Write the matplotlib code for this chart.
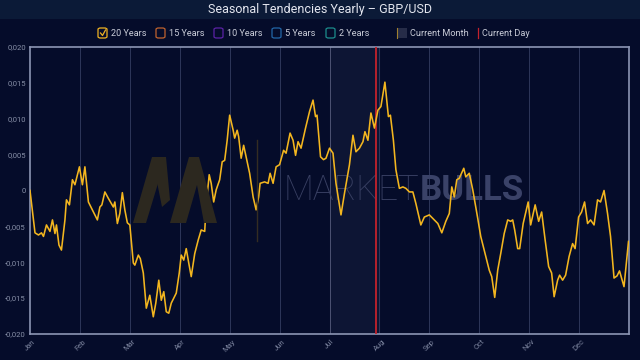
import matplotlib
matplotlib.use("Agg")
import matplotlib.pyplot as plt
from matplotlib.patches import FancyBboxPatch, Rectangle, Polygon
from matplotlib.lines import Line2D

# ================================
# DATA
# ================================
months = ["Jan", "Feb", "Mar", "Apr", "May", "Jun",
          "Jul", "Aug", "Sep", "Oct", "Nov", "Dec"]

# x position in months from 1 Jan (0 = Jan, 12 = end of Dec)
x_month = [
    0.00, 0.10, 0.17, 0.23, 0.27, 0.33, 0.40, 0.45, 0.50, 0.53,
    0.58, 0.63, 0.70, 0.73, 0.79, 0.85, 0.90, 0.99, 1.05, 1.10,
    1.17, 1.27, 1.35, 1.40, 1.44, 1.50, 1.57, 1.67, 1.70, 1.75,
    1.80, 1.85, 1.90, 1.95, 2.00, 2.07, 2.10, 2.17, 2.21, 2.27,
    2.33, 2.40, 2.47, 2.52, 2.58, 2.63, 2.68, 2.73, 2.78, 2.83,
    2.93, 2.99, 3.03, 3.08, 3.13, 3.18, 3.23, 3.30, 3.37, 3.43,
    3.50, 3.53, 3.59, 3.63, 3.68, 3.73, 3.80, 3.85, 3.90, 3.95,
    4.00, 4.07, 4.10, 4.15, 4.18, 4.23, 4.28, 4.33, 4.40, 4.47,
    4.53, 4.58, 4.61, 4.70, 4.77, 4.81, 4.87, 4.93, 5.00, 5.08,
    5.13, 5.21, 5.27, 5.32, 5.37, 5.43, 5.52, 5.60, 5.67, 5.72,
    5.75, 5.82, 5.88, 5.93, 6.00, 6.07, 6.13, 6.23, 6.30, 6.40,
    6.47, 6.53, 6.60, 6.67, 6.71, 6.77, 6.83, 6.90, 6.97, 7.03,
    7.11, 7.18, 7.22, 7.28, 7.33, 7.40, 7.47, 7.53, 7.60, 7.67,
    7.73, 7.83, 7.90, 8.00, 8.10, 8.17, 8.25, 8.33, 8.40, 8.45,
    8.50, 8.55, 8.60, 8.69, 8.73, 8.80, 8.87, 8.97, 9.03, 9.13,
    9.20, 9.25, 9.31, 9.37, 9.43, 9.50, 9.57, 9.63, 9.67, 9.71,
    9.77, 9.81, 9.88, 9.98, 10.03, 10.12, 10.19, 10.25, 10.32, 10.39,
    10.45, 10.50, 10.57, 10.61, 10.67, 10.73, 10.80, 10.87, 10.92, 10.99,
    11.05, 11.11, 11.17, 11.23, 11.30, 11.37, 11.43, 11.50, 11.57, 11.63,
    11.70, 11.76, 11.81, 11.90, 11.99,
]

# 20 year seasonal tendency
tend_20y = [
    0.0000, -0.0059, -0.0062, -0.0059, -0.0064, -0.0048, -0.0057, -0.0041, -0.0060, -0.0048,
    -0.0076, -0.0083, -0.0041, -0.0013, -0.0020, 0.0015, 0.0008, 0.0033, 0.0008, 0.0033,
    -0.0016, -0.0030, -0.0041, -0.0023, -0.0020, -0.0002, -0.0011, -0.0023, -0.0016, -0.0046,
    -0.0032, -0.0003, -0.0027, -0.0045, -0.0048, -0.0101, -0.0104, -0.0090, -0.0095, -0.0115,
    -0.0164, -0.0146, -0.0176, -0.0157, -0.0125, -0.0153, -0.0141, -0.0169, -0.0171, -0.0157,
    -0.0143, -0.0115, -0.0090, -0.0097, -0.0081, -0.0101, -0.0120, -0.0088, -0.0069, -0.0055,
    -0.0057, -0.0020, 0.0022, 0.0010, -0.0016, 0.0001, 0.0015, 0.0040, 0.0042, 0.0070,
    0.0105, 0.0084, 0.0073, 0.0084, 0.0075, 0.0045, 0.0063, 0.0047, 0.0024, -0.0009,
    -0.0027, -0.0009, 0.0010, 0.0012, 0.0010, 0.0024, 0.0010, 0.0033, 0.0036, 0.0056,
    0.0052, 0.0080, 0.0070, 0.0049, 0.0068, 0.0059, 0.0087, 0.0110, 0.0126, 0.0103,
    0.0105, 0.0047, 0.0043, 0.0045, 0.0059, 0.0052, 0.0010, -0.0034, -0.0004, 0.0036,
    0.0077, 0.0054, 0.0059, 0.0068, 0.0082, 0.0070, 0.0108, 0.0087, 0.0112, 0.0117,
    0.0151, 0.0103, 0.0105, 0.0070, 0.0029, 0.0003, 0.0005, 0.0003, -0.0002, -0.0002,
    -0.0018, -0.0048, -0.0037, -0.0034, -0.0041, -0.0046, -0.0059, -0.0043, -0.0032, 0.0005,
    -0.0009, 0.0015, 0.0017, 0.0031, 0.0019, 0.0024, 0.0001, -0.0039, -0.0064, -0.0092,
    -0.0111, -0.0120, -0.0149, -0.0111, -0.0088, -0.0060, -0.0041, -0.0043, -0.0041, -0.0055,
    -0.0081, -0.0081, -0.0046, -0.0016, -0.0048, -0.0020, -0.0043, -0.0030, -0.0069, -0.0106,
    -0.0115, -0.0148, -0.0125, -0.0118, -0.0125, -0.0118, -0.0092, -0.0074, -0.0081, -0.0037,
    -0.0030, -0.0016, -0.0046, -0.0041, -0.0048, -0.0013, -0.0016, 0.0000, -0.0032, -0.0064,
    -0.0122, -0.0119, -0.0112, -0.0134, -0.0071,
]

y_ticks = [-0.020, -0.015, -0.010, -0.005, 0.0, 0.005, 0.010, 0.015, 0.020]
y_labels = ["-0,020", "-0,015", "-0,010", "-0,005", "0",
            "0,005", "0,010", "0,015", "0,020"]

current_month = 6        # Jul
current_day = 6.94       # late July

legend_items = ["20 Years", "15 Years", "10 Years", "5 Years", "2 Years"]
legend_colors = ["#f0b323", "#c0622e", "#5b22a6", "#2266a8", "#1c8c8c"]

# ================================
# STYLE
# ================================
BG = "#050c2a"
GOLD = "#f3b61f"
plt.rcParams["font.family"] = ["Roboto", "DejaVu Sans"]

W, H = 640, 360
fig = plt.figure(figsize=(6.4, 3.6), dpi=100, facecolor=BG)


def fx(px):
    return px / W


def fy(py):
    return 1 - py / H


# title band
fig.add_artist(Rectangle((0, fy(19)), 1, 19 / H, transform=fig.transFigure,
                         facecolor="#0b1a37", edgecolor="none", zorder=0))
fig.text(0.5, fy(9), "Seasonal Tendencies Yearly \u2013 GBP/USD", color="#e3e6ef",
         fontsize=9, ha="center", va="center")

ax = fig.add_axes([fx(30), fy(334), fx(599), 287 / H])
ax.set_facecolor(BG)

# current month shading and current day marker
ax.axvspan(current_month, current_month + 1, color="#0d1534", zorder=0)
ax.axvline(current_day, color="#c4222c", lw=1.3, zorder=3)

# month gridlines
for m in range(1, 12):
    ax.axvline(m, color="#343e62" if m != current_month else "#565c7c", lw=0.6, zorder=1)

# watermark
ax.text(0.424, 0.5, "MARKET", transform=ax.transAxes, color="#383f62",
        fontsize=25, fontweight="light", ha="left", va="center", zorder=1)
ax.text(0.651, 0.5, "BULLS", transform=ax.transAxes, color="#3a4268",
        fontsize=25, fontweight="bold", ha="left", va="center", zorder=1)
logo_col = "#2c281f"
for pts in ([(133, 223), (146, 223), (166, 157), (152, 157)],
            [(152, 157), (166, 157), (170, 200), (162, 207)],
            [(170, 223), (186, 223), (197, 185), (204, 223), (217, 223), (199, 157), (189, 157)]):
    fig.add_artist(Polygon([(fx(a), fy(b)) for a, b in pts], closed=True,
                           transform=fig.transFigure, facecolor=logo_col,
                           edgecolor="none", zorder=1))
fig.add_artist(Line2D([fx(257), fx(257)], [fy(140), fy(241)], transform=fig.transFigure,
                      color="#342d22", lw=1, zorder=1))

ax.plot(x_month, tend_20y, color=GOLD, lw=1.15, zorder=4)

ax.set_xlim(0, 12)
ax.set_ylim(-0.02, 0.02)
ax.set_xticks(range(12))
ax.set_xticklabels(months, rotation=45, ha="center", fontsize=5.5, color="#7c849e")
ax.set_yticks(y_ticks)
ax.set_yticklabels(y_labels, fontsize=5.5, color="#8890a8")
ax.tick_params(length=0, pad=3)
for s in ax.spines.values():
    s.set_color("#8c95b3")
    s.set_linewidth(1.2)

# legend
box_x = [98, 156, 214, 272, 326]
text_x = [111, 169, 227, 285, 339]
ly = 33
for i, lab in enumerate(legend_items):
    fig.add_artist(FancyBboxPatch((fx(box_x[i]), fy(ly + 5)), fx(9), 10 / H,
                                  boxstyle="round,pad=0,rounding_size=0.004",
                                  transform=fig.transFigure, facecolor="none",
                                  edgecolor=legend_colors[i], lw=0.9))
    fig.text(fx(text_x[i]), fy(ly), lab, color="#c9ccd8", fontsize=6.6, va="center")
# check mark in the active box
fig.add_artist(Line2D([fx(100.5), fx(102.5), fx(105.5)], [fy(33), fy(35.5), fy(30)],
                      transform=fig.transFigure, color=legend_colors[0], lw=0.9))

fig.add_artist(Rectangle((fx(397), fy(38)), fx(10), 10 / H, transform=fig.transFigure,
                         facecolor="#262c48", edgecolor="none"))
fig.add_artist(Line2D([fx(397), fx(397)], [fy(28), fy(38)], transform=fig.transFigure,
                      color="#a08030", lw=0.8))
fig.text(fx(410), fy(ly), "Current Month", color="#c9ccd8", fontsize=6.6, va="center")
fig.add_artist(Line2D([fx(478), fx(478)], [fy(28), fy(38)], transform=fig.transFigure,
                      color="#c4222c", lw=0.9))
fig.text(fx(482), fy(ly), "Current Day", color="#c9ccd8", fontsize=6.6, va="center")

fig.savefig("out.png", dpi=100, facecolor=BG)
